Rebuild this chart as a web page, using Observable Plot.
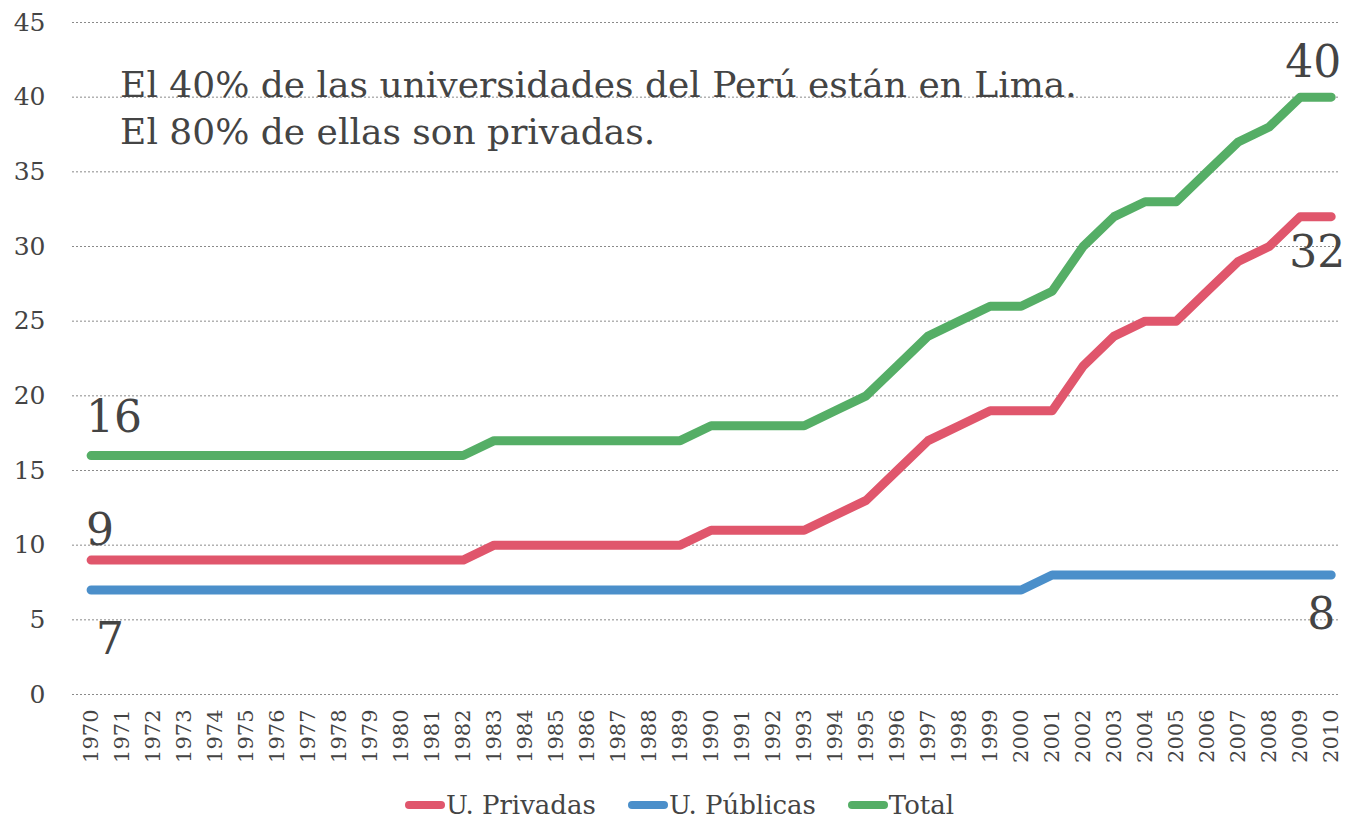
<!DOCTYPE html>
<html><head><meta charset="utf-8">
<script src="https://cdn.jsdelivr.net/npm/d3@7"></script>
<script src="https://cdn.jsdelivr.net/npm/@observablehq/plot@0.6"></script>
<style>
body{margin:0;background:#fff;font-family:"DejaVu Serif",serif;}
#legend{display:flex;justify-content:center;align-items:center;gap:32px;font-size:26px;color:#444;height:34px;margin-top:8px;}
#legend .item{display:flex;align-items:center;}
#legend .sw{display:inline-block;width:40px;height:8px;border-radius:4px;margin-right:1px;}
</style></head><body><div id="chart"></div><div id="legend"></div>
<script>
const years = [1970,1971,1972,1973,1974,1975,1976,1977,1978,1979,1980,1981,1982,1983,1984,1985,1986,1987,1988,1989,1990,1991,1992,1993,1994,1995,1996,1997,1998,1999,2000,2001,2002,2003,2004,2005,2006,2007,2008,2009,2010];
const privadas = [9,9,9,9,9,9,9,9,9,9,9,9,9,10,10,10,10,10,10,10,11,11,11,11,12,13,15,17,18,19,19,19,22,24,25,25,27,29,30,32,32];
const publicas = [7,7,7,7,7,7,7,7,7,7,7,7,7,7,7,7,7,7,7,7,7,7,7,7,7,7,7,7,7,7,7,8,8,8,8,8,8,8,8,8,8];
const total = [16,16,16,16,16,16,16,16,16,16,16,16,16,17,17,17,17,17,17,17,18,18,18,18,19,20,22,24,25,26,26,27,30,32,33,33,35,37,38,40,40];
const seriesNames = ["U. Privadas","U. Públicas","Total"];
const seriesColors = ["#e0566c","#4b8fca","#55ae66"];
const yTicks = [0,5,10,15,20,25,30,35,40,45];
const annotationLines = ["El 40% de las universidades del Perú están en Lima.","El 80% de ellas son privadas."];

const seriesValues = [privadas, publicas, total];
const rows = [];
seriesNames.forEach((s, i) => years.forEach((y, j) => rows.push({year: y, value: seriesValues[i][j], series: s})));

// end labels: first / last value of each series, styled offsets only
const startLabels = [
  {year: years[0], value: total[0], dx: -5, dy: -38},
  {year: years[0], value: privadas[0], dx: -5, dy: -29},
  {year: years[0], value: publicas[0], dx: 5, dy: 50}
];
const endLabels = [
  {year: years[years.length-1], value: total[total.length-1], dx: 10, dy: -34},
  {year: years[years.length-1], value: privadas[privadas.length-1], dx: 14, dy: 36},
  {year: years[years.length-1], value: publicas[publicas.length-1], dx: 4, dy: 40}
];

const chart = Plot.plot({
  width: 1359,
  height: 780,
  marginLeft: 72,
  marginRight: 19,
  marginTop: 22,
  marginBottom: 86,
  style: {fontFamily: "DejaVu Serif, serif", color: "#444", background: "#fff"},
  x: {type: "linear", domain: [1969.4, 2010.3]},
  y: {domain: [0, 45]},
  color: {domain: seriesNames, range: seriesColors},
  marks: [
    Plot.gridY(yTicks, {stroke: "#8a8a8a", strokeOpacity: 1, strokeWidth: 1, strokeDasharray: "2,2"}),
    Plot.axisY({ticks: yTicks, tickSize: 0, tickPadding: 27, fontSize: 25, label: null, fill: "#444"}),
    Plot.axisX({ticks: years, tickFormat: d => String(d), tickRotate: -90, tickSize: 0, tickPadding: 15, fontSize: 21, label: null, fill: "#444"}),
    Plot.lineY(rows, {x: "year", y: "value", stroke: "series", z: "series", strokeWidth: 9, strokeLinecap: "round", strokeLinejoin: "round"}),
    ...startLabels.map(d => Plot.text([d], {x: "year", y: "value", text: d => String(d.value), textAnchor: "start", dx: d.dx, dy: d.dy, fontSize: 44, fill: "#444"})),
    ...endLabels.map(d => Plot.text([d], {x: "year", y: "value", text: d => String(d.value), textAnchor: "end", dx: d.dx, dy: d.dy, fontSize: 44, fill: "#444"})),
    Plot.text([annotationLines.join("\n")], {x: 1971, y: 45, text: d => d, textAnchor: "start", lineAnchor: "top", lineHeight: 1.3, dy: 41, dx: -2, fontSize: 36, fill: "#444"})
  ]
});
document.getElementById("chart").appendChild(chart);

const legend = document.getElementById("legend");
seriesNames.forEach((s, i) => {
  const item = document.createElement("span");
  item.className = "item";
  const sw = document.createElement("span");
  sw.className = "sw";
  sw.style.background = seriesColors[i];
  item.appendChild(sw);
  item.appendChild(document.createTextNode(s));
  legend.appendChild(item);
});
</script></body></html>
